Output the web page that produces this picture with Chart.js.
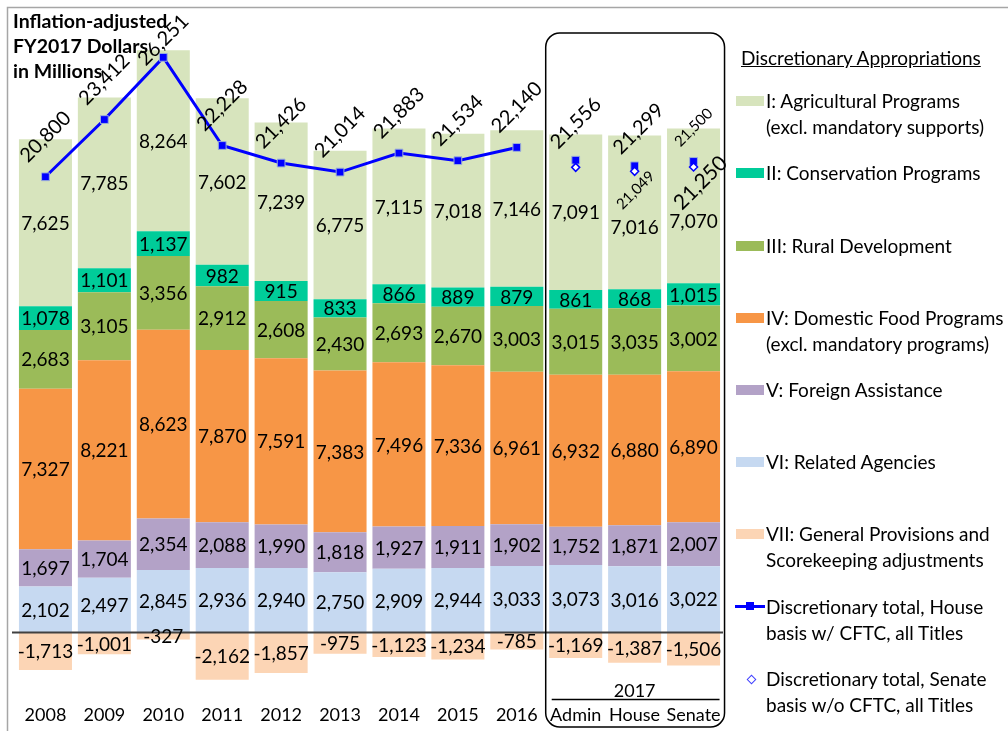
<!DOCTYPE html>
<html>
<head>
<meta charset="utf-8">
<script src="https://cdn.jsdelivr.net/npm/chart.js@4.4.1/dist/chart.umd.min.js"></script>
<style>
html, body { margin: 0; padding: 0; background: #fff; }
#wrap { position: relative; width: 1008px; height: 731px; overflow: hidden; }
#chart { position: absolute; left: 0; top: 0; }
.lg { position: absolute; left: 766px; font-family: Lato, "Noto Sans", sans-serif; font-size: 19px; line-height: 25.5px; color: #000; white-space: nowrap; }
.sw { position: absolute; left: 736px; width: 28px; height: 10px; }
</style>
</head>
<body>
<div id="wrap">
<canvas id="chart" width="1008" height="731"></canvas>

<div class="lg" style="left:741px;top:45px;text-decoration:underline;">Discretionary Appropriations</div>

<div class="sw" style="top:96px;background:#D7E4BD;"></div>
<div class="lg" style="top:88px;">I: Agricultural Programs<br>(excl. mandatory supports)</div>

<div class="sw" style="top:168px;background:#00CC99;"></div>
<div class="lg" style="top:160px;">II: Conservation Programs</div>

<div class="sw" style="top:241px;background:#9BBB59;"></div>
<div class="lg" style="top:233px;">III: Rural Development</div>

<div class="sw" style="top:313px;background:#F79646;"></div>
<div class="lg" style="top:305px;">IV: Domestic Food Programs<br>(excl. mandatory programs)</div>

<div class="sw" style="top:385px;background:#B3A2C7;"></div>
<div class="lg" style="top:377px;">V: Foreign Assistance</div>

<div class="sw" style="top:457px;background:#C6D9F1;"></div>
<div class="lg" style="top:449px;">VI: Related Agencies</div>

<div class="sw" style="top:529px;background:#FCD5B5;"></div>
<div class="lg" style="top:521px;">VII: General Provisions and<br>Scorekeeping adjustments</div>

<div style="position:absolute;left:735px;top:605px;width:30px;height:3px;background:#0000FF;"></div>
<div style="position:absolute;left:746px;top:602px;width:8px;height:8px;background:#0000FF;"></div>
<div class="lg" style="top:594px;">Discretionary total, House<br>basis w/ CFTC, all Titles</div>

<div style="position:absolute;left:748px;top:676px;width:5px;height:5px;border:1px solid #4040FF;background:#fff;transform:rotate(45deg);"></div>
<div class="lg" style="top:666px;">Discretionary total, Senate<br>basis w/o CFTC, all Titles</div>
</div>

<script>
// categories
var years = ['2008', '2009', '2010', '2011', '2012', '2013', '2014', '2015', '2016', 'Admin', 'House', 'Senate'];

// titles, $ millions (FY2017 dollars)
var relatedAgencies = [2102, 2497, 2845, 2936, 2940, 2750, 2909, 2944, 3033, 3073, 3016, 3022];
var foreignAssist   = [1697, 1704, 2354, 2088, 1990, 1818, 1927, 1911, 1902, 1752, 1871, 2007];
var domesticFood    = [7327, 8221, 8623, 7870, 7591, 7383, 7496, 7336, 6961, 6932, 6880, 6890];
var ruralDev        = [2683, 3105, 3356, 2912, 2608, 2430, 2693, 2670, 3003, 3015, 3035, 3002];
var conservation    = [1078, 1101, 1137, 982, 915, 833, 866, 889, 879, 861, 868, 1015];
var agPrograms      = [7625, 7785, 8264, 7602, 7239, 6775, 7115, 7018, 7146, 7091, 7016, 7070];
var generalProv     = [-1713, -1001, -327, -2162, -1857, -975, -1123, -1234, -785, -1169, -1387, -1506];

// totals
var houseTotal  = [20800, 23412, 26251, 22228, 21426, 21014, 21883, 21534, 22140, null, null, null];
var house2017   = [null, null, null, null, null, null, null, null, null, 21556, 21299, 21500];
var senate2017  = [null, null, null, null, null, null, null, null, null, 21230, 21049, 21250];

var FONT = 'Lato, "Noto Sans", sans-serif';

function fmt(v) { return v.toLocaleString('en-US'); }

function barSet(label, data, color) {
    return {
        type: 'bar', label: label, data: data, backgroundColor: color,
        stack: 'titles', order: 2, barPercentage: 0.9, categoryPercentage: 1.0
    };
}

var overlay = {
    id: 'overlay',
    beforeDraw: function(chart) {
        var c = chart.ctx;
        c.save();
        c.fillStyle = '#fff';
        c.fillRect(0, 0, chart.width, chart.height);
        c.strokeStyle = '#A6A6A6';
        c.lineWidth = 1.5;
        c.strokeRect(7.5, 7.5, 1300, 900);
        c.restore();
    },
    afterDatasetsDraw: function(chart) {
        var c = chart.ctx, x = chart.scales.x, y = chart.scales.y;
        c.save();
        // zero line
        var y0 = Math.round(y.getPixelForValue(0)) + 0.5;
        c.strokeStyle = '#404040';
        c.lineWidth = 2;
        c.beginPath();
        c.moveTo(12, y0);
        c.lineTo(723, y0);
        c.stroke();

        // segment labels (top segment pushed down where a Senate-basis label sits)
        c.fillStyle = '#000';
        c.font = '19px ' + FONT;
        c.textAlign = 'center';
        c.textBaseline = 'middle';
        for (var i = 0; i < 7; i++) {
            var meta = chart.getDatasetMeta(i);
            meta.data.forEach(function(bar, j) {
                var v = chart.data.datasets[i].data[j];
                var dy = (i === 5 && (years[j] === 'House' || years[j] === 'Senate')) ? 15 : 0;
                c.fillText(fmt(v), bar.x, (bar.y + bar.base) / 2 + 1 + dy);
            });
        }

        // rotated total labels
        function rot(text, cx, cy, size) {
            c.save();
            c.translate(cx, cy);
            c.rotate(-Math.PI / 4);
            c.font = size + 'px ' + FONT;
            c.fillText(text, 0, 0);
            c.restore();
        }
        var hm = chart.getDatasetMeta(7), hm17 = chart.getDatasetMeta(8), sm = chart.getDatasetMeta(9);
        for (var j = 0; j < years.length; j++) {
            if (houseTotal[j] != null) {
                var p = hm.data[j];
                rot(fmt(houseTotal[j]), p.x, Math.max(p.y - 40, 40), 20);
            }
            if (house2017[j] != null) {
                var q = hm17.data[j];
                var small = years[j] === 'Senate';
                rot(fmt(house2017[j]), q.x + (years[j] === 'House' ? 4 : 0), q.y - (small ? 34 : 37), small ? 15 : 20);
            }
            if (senate2017[j] != null && years[j] !== 'Admin') {
                var s = sm.data[j];
                var small2 = years[j] === 'House';
                rot(fmt(senate2017[j]), s.x + (small2 ? 1 : 7), s.y + (small2 ? 19 : 16), small2 ? 15 : 21);
            }
        }

        // category labels
        c.font = '18px ' + FONT;
        for (var k = 0; k < years.length; k++) {
            c.fillText(years[k], x.getPixelForValue(k), 715);
        }
        var ax = x.getPixelForValue(9), hx = x.getPixelForValue(10), sx = x.getPixelForValue(11);
        c.fillText('2017', hx, 691);
        c.strokeStyle = '#000';
        c.lineWidth = 1.3;
        c.beginPath();
        c.moveTo(ax - 24, 699.5);
        c.lineTo(sx + 26, 699.5);
        c.stroke();

        // rounded box around 2017
        var bx = ax - 30, bw = sx + 31 - bx, by = 33, bh = 727 - 33, r = 14;
        c.lineWidth = 1.5;
        c.beginPath();
        c.moveTo(bx + r, by);
        c.arcTo(bx + bw, by, bx + bw, by + bh, r);
        c.arcTo(bx + bw, by + bh, bx, by + bh, r);
        c.arcTo(bx, by + bh, bx, by, r);
        c.arcTo(bx, by, bx + bw, by, r);
        c.closePath();
        c.stroke();

        // unit title
        c.textAlign = 'left';
        c.textBaseline = 'alphabetic';
        c.font = 'bold 19.5px ' + FONT;
        c.fillText('Inflation-adjusted', 13, 28);
        c.fillText('FY2017 Dollars', 13, 53);
        c.fillText('in Millions', 13, 78);
        c.restore();
    }
};

var chart = new Chart(document.getElementById('chart'), {
    data: {
        labels: years,
        datasets: [
            barSet('VI: Related Agencies', relatedAgencies, '#C6D9F1'),
            barSet('V: Foreign Assistance', foreignAssist, '#B3A2C7'),
            barSet('IV: Domestic Food Programs', domesticFood, '#F79646'),
            barSet('III: Rural Development', ruralDev, '#9BBB59'),
            barSet('II: Conservation Programs', conservation, '#00CC99'),
            barSet('I: Agricultural Programs', agPrograms, '#D7E4BD'),
            barSet('VII: General Provisions', generalProv, '#FCD5B5'),
            {
                type: 'line', label: 'House basis', data: houseTotal, stack: 'h',
                order: 1, borderColor: '#0000FF', borderWidth: 3,
                pointStyle: 'rect', pointRadius: 5.5, pointBackgroundColor: '#0000FF',
                pointBorderColor: '#9DB0D8', pointBorderWidth: 1
            },
            {
                type: 'line', label: 'House basis 2017', data: house2017, stack: 'h17',
                order: 1, showLine: false, borderColor: '#0000FF',
                pointStyle: 'rect', pointRadius: 5.5, pointBackgroundColor: '#0000FF',
                pointBorderColor: '#9DB0D8', pointBorderWidth: 1
            },
            {
                type: 'line', label: 'Senate basis', data: senate2017, stack: 's',
                order: 0, showLine: false, borderColor: '#0000FF',
                pointStyle: 'rectRot', pointRadius: 4, pointBackgroundColor: '#fff',
                pointBorderColor: '#0000FF', pointBorderWidth: 1.5
            }
        ]
    },
    options: {
        responsive: false,
        animation: false,
        devicePixelRatio: 1,
        layout: { padding: { left: 16, right: 285, top: 30, bottom: 46 } },
        plugins: { legend: { display: false }, tooltip: { enabled: false } },
        scales: {
            x: { display: false, stacked: true, grid: { display: false } },
            y: { display: false, stacked: true, min: -2400, max: 27500, grid: { display: false } }
        }
    },
    plugins: [overlay]
});
</script>
</body>
</html>
